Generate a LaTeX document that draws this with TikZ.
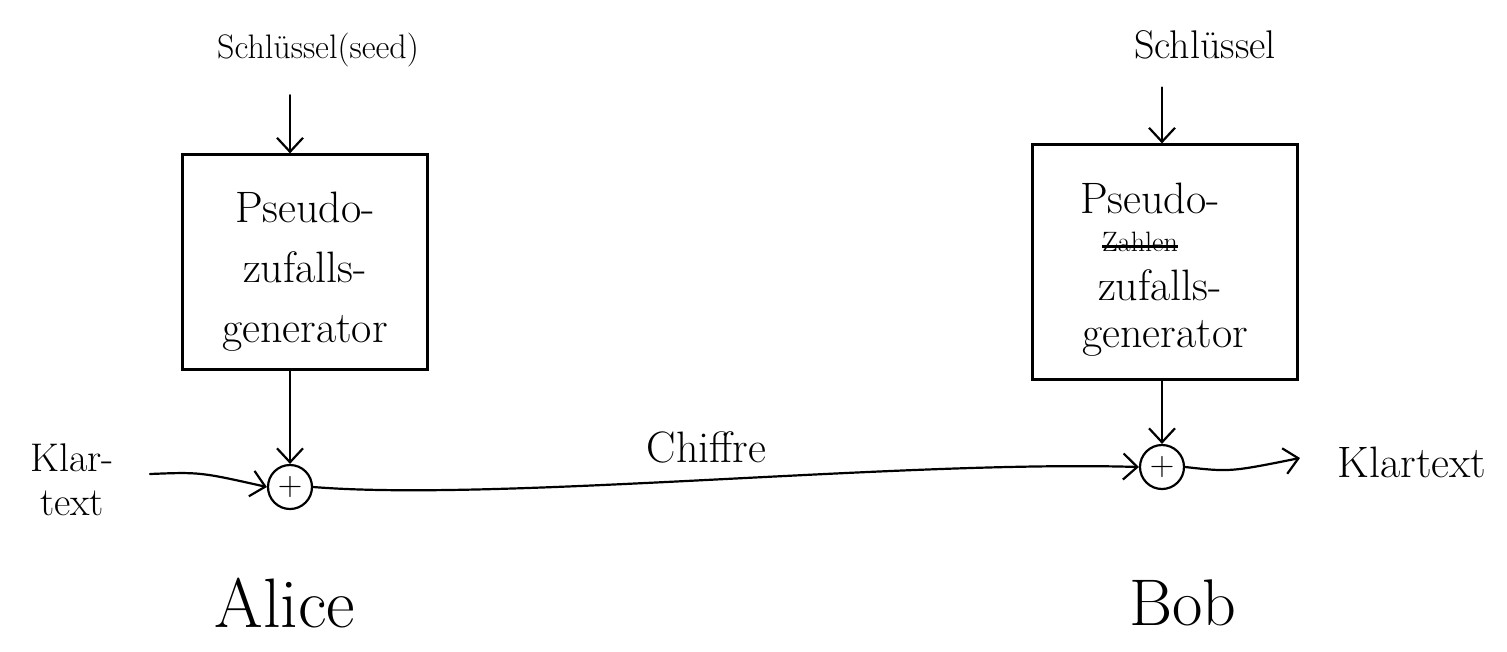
\documentclass[tikz,border=0pt]{standalone}
\usetikzlibrary{arrows.meta}
\newcommand\mystrike[1]{\setbox0=\hbox{#1}\rlap{\copy0}\rule[0.3ex]{\wd0}{2.5pt}}
\tikzset{
  ln/.style={line width=2.2pt, line cap=round},
  arr/.style={ln, -{Straight Barb[length=14pt,width=26pt,line width=2.2pt]}},
  genbox/.style={draw, line width=2.2pt, rectangle, inner sep=0pt},
  xorn/.style={draw, circle, line width=2.2pt, minimum size=44pt, inner sep=0pt, font=\fontsize{34}{34}\selectfont},
  boxtxt/.style={align=center, font=\fontsize{44}{60}\selectfont, inner sep=0pt},
  lbl/.style={font=\fontsize{44}{46}\selectfont, inner sep=0pt},
  big/.style={font=\fontsize{70}{70}\selectfont, inner sep=0pt}
}
\begin{document}
\begin{tikzpicture}[x=1pt,y=-1pt]
\useasboundingbox[fill=white] (0,0) rectangle (1507,651);
% Alice
\node[font=\fontsize{34}{38}\selectfont, inner sep=0pt] (ka) at (318,50) {Schlüssel(seed)};
\node[genbox, minimum width=245pt, minimum height=215pt] (ga) at (305,262) {};
\node[boxtxt] (gat) at (305,272) {Pseudo-\\zufalls-\\generator};
\node[xorn] (xa) at (290,487) {+};
\coordinate (ina) at (150,474);
\node[lbl, align=center, font=\fontsize{40}{44}\selectfont] (klar) at (72,480) {Klar-\\text};
\node[big] (alice) at (285,603) {Alice};
% Bob
\node[font=\fontsize{40}{44}\selectfont, inner sep=0pt] (kb) at (1205,45) {Schlüssel};
\node[genbox, minimum width=265pt, minimum height=235pt] (gb) at (1165,262) {};
\node[boxtxt] (gbt) at (1150,198) {Pseudo-};
\node[boxtxt, font=\fontsize{28}{30}\selectfont] (gbs) at (1140,242) {\mystrike{Zahlen}};
\node[boxtxt] (gbz) at (1160,285) {zufalls-};
\node[boxtxt] (gbg) at (1165,338) {generator};
\node[xorn] (xb) at (1162,467) {+};
\coordinate (outb) at (1300,458);
\node[lbl] (klarb) at (1412,462) {Klartext};
\node[big, font=\fontsize{66}{66}\selectfont] (bob) at (1183,603) {Bob};
% connectors
\draw[arr] ([yshift=-28pt]ka.south -| xa.north) -- (ga.north -| xa.north);
\draw[arr] (ga.south -| xa.north) -- (xa.north);
\draw[arr] (ina) .. controls (200,472) .. (xa.west);
\draw[arr] (xa.east) .. controls (500,502) and (900,460) .. node[lbl, above=16pt, pos=0.5] (chiffre) {Chiffre} (xb.west);
\draw[arr] ([yshift=-28pt]kb.south -| xb.north) -- (gb.north -| xb.north);
\draw[arr] (gb.south -| xb.north) -- (xb.north);
\draw[arr] (xb.east) .. controls (1230,472) .. (outb);
\end{tikzpicture}
\end{document}
